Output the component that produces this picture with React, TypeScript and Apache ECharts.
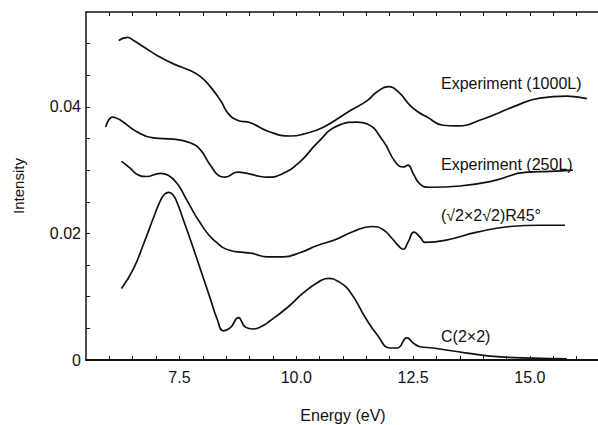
import React, { useEffect, useRef } from "react";
import * as echarts from "echarts";

// Experiment (1000L)
const exp1000Energy = [6.20, 6.39, 6.52, 6.73, 7.03, 7.37, 7.74, 7.95, 8.16, 8.38, 8.55, 8.74, 9.02, 9.38, 9.87, 10.15, 10.58, 11.15, 11.52, 11.73, 11.97, 12.18, 12.44, 12.61, 12.80, 13.14, 13.44, 14.0, 14.64, 15.21, 15.79, 16.22];
const exp1000Intensity = [0.0505, 0.0510, 0.0505, 0.0495, 0.0481, 0.0468, 0.0457, 0.0448, 0.0432, 0.0410, 0.0389, 0.0379, 0.0375, 0.0362, 0.0354, 0.0357, 0.0368, 0.0394, 0.0410, 0.0424, 0.0432, 0.0424, 0.0402, 0.0392, 0.0384, 0.0371, 0.0370, 0.0381, 0.0400, 0.0414, 0.0417, 0.0413];

// Experiment (250L)
const exp250Energy = [5.92, 6.07, 6.24, 6.56, 6.94, 7.37, 7.74, 7.95, 8.16, 8.38, 8.48, 8.74, 8.95, 9.23, 9.38, 9.72, 10.09, 10.45, 10.88, 11.30, 11.52, 11.86, 12.12, 12.29, 12.39, 12.50, 12.65, 12.86, 13.50, 14.21, 14.94, 15.43, 15.92];
const exp250Intensity = [0.0368, 0.0384, 0.0379, 0.0362, 0.0351, 0.0349, 0.0343, 0.0332, 0.0308, 0.0290, 0.0289, 0.0297, 0.0295, 0.0290, 0.0289, 0.0295, 0.0314, 0.0343, 0.0370, 0.0376, 0.0373, 0.0346, 0.0313, 0.0305, 0.0308, 0.0295, 0.0278, 0.0273, 0.0275, 0.0283, 0.0297, 0.0298, 0.0300];

// (√2×2√2)R45°
const r45Energy = [6.26, 6.45, 6.58, 6.79, 7.09, 7.26, 7.46, 7.67, 7.95, 8.23, 8.59, 8.87, 9.08, 9.38, 9.72, 10.09, 10.45, 10.83, 11.22, 11.62, 11.86, 12.05, 12.18, 12.29, 12.39, 12.52, 12.65, 12.76, 13.18, 13.87, 14.57, 15.21, 15.75];
const r45Intensity = [0.0314, 0.0303, 0.0294, 0.0290, 0.0295, 0.0292, 0.0278, 0.0251, 0.0216, 0.0190, 0.0173, 0.0170, 0.0168, 0.0163, 0.0163, 0.0170, 0.0181, 0.0190, 0.0203, 0.0211, 0.0206, 0.0192, 0.0181, 0.0175, 0.0186, 0.0202, 0.0194, 0.0186, 0.0189, 0.0202, 0.0211, 0.0213, 0.0213];

// C(2×2)
const c2x2Energy = [6.26, 6.52, 6.73, 6.93, 7.08, 7.18, 7.27, 7.36, 7.47, 7.60, 7.74, 7.95, 8.16, 8.31, 8.44, 8.59, 8.76, 8.91, 9.08, 9.23, 9.44, 9.81, 10.15, 10.45, 10.68, 10.90, 11.15, 11.47, 11.73, 12.01, 12.16, 12.37, 12.50, 12.65, 12.93, 13.65, 14.36, 15.06, 15.79];
const c2x2Intensity = [0.0113, 0.0145, 0.0183, 0.0222, 0.0250, 0.0262, 0.0265, 0.0261, 0.0245, 0.0218, 0.0189, 0.0143, 0.0097, 0.0064, 0.0046, 0.0051, 0.0067, 0.0052, 0.0049, 0.0052, 0.0062, 0.0083, 0.0106, 0.0122, 0.0129, 0.0124, 0.0108, 0.0068, 0.0040, 0.0019, 0.0019, 0.0035, 0.0027, 0.0021, 0.0019, 0.0011, 0.0005, 0.0003, 0.0002];

const seriesNames = ["Experiment (1000L)", "Experiment (250L)", "(√2×2√2)R45°", "C(2×2)"];
const xTickLabels = [7.5, 10, 12.5, 15];
const xMinorTicks = [6, 6.5, 7, 7.5, 8, 8.5, 9, 9.5, 10, 10.5, 11, 11.5, 12, 12.5, 13, 13.5, 14, 14.5, 15, 15.5, 16];
const yTickLabels = [0, 0.02, 0.04];
const yMinorTicks = [0, 0.005, 0.01, 0.015, 0.02, 0.025, 0.03, 0.035, 0.04, 0.045, 0.05];

const FONT = "'Liberation Sans', Arial, Helvetica, sans-serif";

const zip = (xs: number[], ys: number[]) => xs.map((x, i) => [x, ys[i]]);

export default function App() {
  const ref = useRef<HTMLDivElement>(null);
  useEffect(() => {
    document.body.style.margin = "0";
    const chart = echarts.init(ref.current!, null, { renderer: "svg" });
    const lineStyle = { color: "#111", width: 1.7 };
    const mkSeries = (name: string, xs: number[], ys: number[]) => ({
      name,
      type: "line",
      data: zip(xs, ys),
      smooth: 0.5,
      symbol: "none",
      lineStyle,
    });
    const labelPos = [
      { x: 441, y: 83 },
      { x: 441, y: 164 },
      { x: 441, y: 215 },
      { x: 441, y: 336 },
    ];
    chart.setOption({
      animation: false,
      backgroundColor: "#fff",
      grid: { left: 86, top: 12, width: 514, height: 348, outerBoundsMode: "none", containLabel: false },
      xAxis: [
        {
          type: "value",
          min: 5.5,
          max: 16.5,
          position: "bottom",
          name: "Energy (eV)",
          nameLocation: "middle",
          nameGap: 47,
          nameTextStyle: { fontFamily: FONT, fontSize: 16, color: "#111" },
          axisLine: { lineStyle: { color: "#111", width: 2 } },
          axisTick: { inside: true, length: 4, customValues: xMinorTicks, lineStyle: { color: "#111" } },
          axisLabel: {
            customValues: xTickLabels,
            margin: 9,
            fontFamily: FONT,
            fontSize: 16,
            color: "#111",
            formatter: (v: number) => v.toFixed(1),
          },
          splitLine: { show: false },
        },
        {
          type: "value",
          min: 5.5,
          max: 16.5,
          position: "top",
          axisLine: { lineStyle: { color: "#111", width: 1.5 } },
          axisTick: { inside: true, length: 4, customValues: xMinorTicks, lineStyle: { color: "#111" } },
          axisLabel: { show: false },
          splitLine: { show: false },
        },
      ],
      yAxis: {
        type: "value",
        min: 0,
        max: 0.055,
        name: "Intensity",
        nameLocation: "middle",
        nameGap: 60,
        nameTextStyle: { fontFamily: FONT, fontSize: 15, color: "#111" },
        axisLine: { show: true, lineStyle: { color: "#111", width: 1.5 } },
        axisTick: { inside: true, length: 4, customValues: yMinorTicks, lineStyle: { color: "#111" } },
        axisLabel: {
          customValues: yTickLabels,
          margin: 5,
          fontFamily: FONT,
          fontSize: 16,
          color: "#111",
          formatter: (v: number) => (v === 0 ? "0" : v.toFixed(2)),
        },
        splitLine: { show: false },
      },
      graphic: seriesNames.map((t, i) => ({
        type: "text",
        x: labelPos[i].x,
        y: labelPos[i].y,
        style: {
          text: t,
          fill: "#111",
          fontFamily: FONT,
          fontSize: 16,
          textVerticalAlign: "middle",
          textAlign: "left",
        },
      })),
      series: [
        mkSeries(seriesNames[0], exp1000Energy, exp1000Intensity),
        mkSeries(seriesNames[1], exp250Energy, exp250Intensity),
        mkSeries(seriesNames[2], r45Energy, r45Intensity),
        mkSeries(seriesNames[3], c2x2Energy, c2x2Intensity),
      ],
    });
    return () => chart.dispose();
  }, []);
  return <div ref={ref} style={{ width: 598, height: 425 }} />;
}
